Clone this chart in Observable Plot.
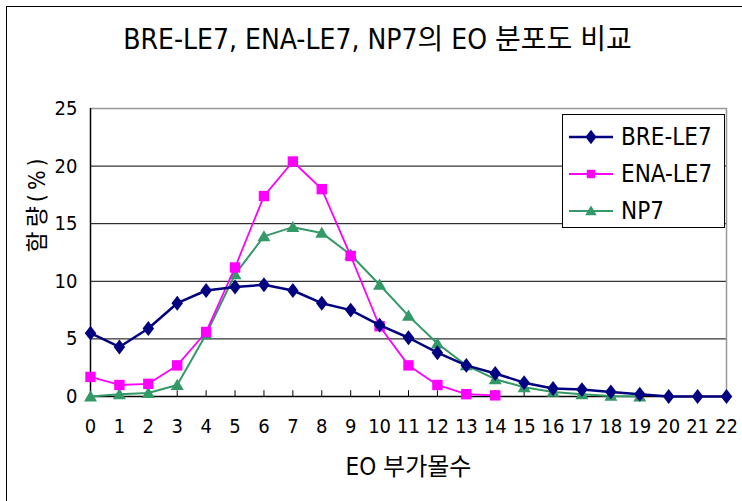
<!DOCTYPE html>
<html>
<head>
<meta charset="utf-8">
<script src="https://cdn.jsdelivr.net/npm/d3@7"></script>
<script src="https://cdn.jsdelivr.net/npm/@observablehq/plot@0.6"></script>
<style>
  html, body { margin: 0; padding: 0; background: #fff; }
  #wrap { position: relative; width: 742px; height: 501px; overflow: hidden; }
  #frame { position: absolute; left: 6px; top: 6px; width: 800px; height: 600px; border: 1.5px solid #000; box-sizing: border-box; }
  #chart { position: absolute; left: 0; top: 0; }
  #legend { position: absolute; left: 562px; top: 114px; width: 163px; height: 114px; border: 1px solid #000; background: #fff; box-sizing: border-box; }
  .row { position: absolute; left: 0; height: 30px; display: flex; align-items: center; white-space: nowrap; }
  .row span { font-family: "DejaVu Sans", "Noto Sans CJK KR", sans-serif; font-stretch: condensed; font-size: 24px; color: #000; margin-left: 4px; line-height: 30px; white-space: nowrap; }
  svg text { font-stretch: condensed; }
</style>
</head>
<body>
<div id="wrap">
  <div id="frame"></div>
  <div id="chart"></div>
  <div id="legend"></div>
</div>
<script>
const FONT = '"DejaVu Sans", "Noto Sans CJK KR", sans-serif';
const titleText = "BRE-LE7, ENA-LE7, NP7의 EO 분포도 비교";
const xTitle = "EO 부가몰수";
const yTitle = "함량(%)";
const seriesNames = ["BRE-LE7", "ENA-LE7", "NP7"];
const seriesColors = ["#000080", "#FF00FF", "#339966"];
const xTicks = [0,1,2,3,4,5,6,7,8,9,10,11,12,13,14,15,16,17,18,19,20,21,22];
const yTicks = [0, 5, 10, 15, 20, 25];
const breX = [0,1,2,3,4,5,6,7,8,9,10,11,12,13,14,15,16,17,18,19,20,21,22];
const breY = [5.5,4.3,5.9,8.1,9.2,9.5,9.7,9.2,8.1,7.5,6.2,5.1,3.8,2.7,2.0,1.2,0.7,0.6,0.4,0.2,0,0,0];
const enaX = [0,1,2,3,4,5,6,7,8,9,10,11,12,13,14];
const enaY = [1.7,1.0,1.1,2.7,5.6,11.2,17.4,20.4,18.0,12.2,6.1,2.7,1.0,0.2,0.1];
const npX = [0,1,2,3,4,5,6,7,8,9,10,11,12,13,14,15,16,17,18,19];
const npY = [0.0,0.2,0.3,1.0,5.4,10.6,13.9,14.7,14.2,12.3,9.7,7.0,4.6,2.7,1.5,0.8,0.4,0.2,0.05,0.0];

// custom marker shapes
const diamondSym = { draw(ctx, size) { const r = Math.sqrt(size / Math.PI); const h = r * 1.55, w = r * 1.2; ctx.moveTo(0, -h); ctx.lineTo(w, 0); ctx.lineTo(0, h); ctx.lineTo(-w, 0); ctx.closePath(); } };
const squareSym = { draw(ctx, size) { const r = Math.sqrt(size / Math.PI); ctx.rect(-r, -r, 2 * r, 2 * r); } };
const triSym = { draw(ctx, size) { const r = Math.sqrt(size / Math.PI); const w = r * 1.25; ctx.moveTo(0, -r * 1.2); ctx.lineTo(w, r * 0.95); ctx.lineTo(-w, r * 0.95); ctx.closePath(); } };

const bre = breX.map((x, i) => ({x, y: breY[i]}));
const ena = enaX.map((x, i) => ({x, y: enaY[i]}));
const np = npX.map((x, i) => ({x, y: npY[i]}));

const chart = Plot.plot({
  width: 742,
  height: 501,
  marginLeft: 90,
  marginRight: 16,
  marginTop: 108,
  marginBottom: 105,
  style: { fontFamily: FONT, background: "transparent", overflow: "visible" },
  x: { domain: [0, 22] },
  y: { domain: [0, 25] },
  marks: [
    Plot.ruleY([5, 10, 15, 20], { stroke: "#000", strokeWidth: 1 }),
    Plot.ruleY([25], { stroke: "#999", strokeWidth: 1.5 }),
    Plot.ruleX([22], { stroke: "#999", strokeWidth: 1.5 }),
    Plot.ruleX(xTicks.slice(1), { y1: 0, y2: 0.5, stroke: "#000", strokeWidth: 1 }),
    Plot.ruleY([0], { stroke: "#000", strokeWidth: 1.5 }),
    Plot.ruleX([0], { stroke: "#000", strokeWidth: 1.5 }),
    Plot.axisX({ ticks: xTicks, tickSize: 0, tickPadding: 22, fontSize: 20, label: null, tickFormat: d => String(d), fill: "#000" }),
    Plot.axisY({ ticks: yTicks, tickSize: 0, tickPadding: 13, fontSize: 20, label: null, fill: "#000" }),
    Plot.line(np, { x: "x", y: "y", stroke: seriesColors[2], strokeWidth: 2 }),
    Plot.dot(np, { x: "x", y: "y", symbol: triSym, r: 5.2, fill: seriesColors[2], stroke: "none" }),
    Plot.line(ena, { x: "x", y: "y", stroke: seriesColors[1], strokeWidth: 1.8 }),
    Plot.dot(ena, { x: "x", y: "y", symbol: squareSym, r: 5.2, fill: seriesColors[1], stroke: "none" }),
    Plot.line(bre, { x: "x", y: "y", stroke: seriesColors[0], strokeWidth: 2.5 }),
    Plot.dot(bre, { x: "x", y: "y", symbol: diamondSym, r: 4.8, fill: seriesColors[0], stroke: "none" }),
    Plot.text([titleText], { frameAnchor: "top", lineAnchor: "middle", dx: -31, dy: -68, fontSize: 28, fill: "#000" }),
    Plot.text([xTitle], { frameAnchor: "bottom", lineAnchor: "middle", dy: 71, fontSize: 24, fill: "#000" }),
    Plot.text([yTitle], { frameAnchor: "left", lineAnchor: "middle", rotate: -90, dx: -53, fontSize: 23, fill: "#000" })
  ]
});
document.getElementById("chart").appendChild(chart);
// widen the letter spacing of the vertical axis title as in the reference
d3.select(chart).selectAll("text").filter(function () { return this.textContent === yTitle; })
  .attr("letter-spacing", "4px");

// legend
const legend = document.getElementById("legend");
const shapes = [diamondSym, squareSym, triSym];
const rs = [4.6, 4.2, 4.6];
const widths = [2.5, 1.8, 2];
seriesNames.forEach((name, i) => {
  const row = document.createElement("div");
  row.className = "row";
  row.style.top = (7 + i * 37) + "px";
  const svg = d3.create("svg").attr("width", 48).attr("height", 30).style("margin-left", "6px");
  svg.append("line").attr("x1", 0).attr("x2", 44).attr("y1", 15).attr("y2", 15).attr("stroke", seriesColors[i]).attr("stroke-width", widths[i]);
  svg.append("path").attr("transform", "translate(22,15)").attr("d", d3.symbol(shapes[i], Math.PI * rs[i] * rs[i])()).attr("fill", seriesColors[i]);
  row.appendChild(svg.node());
  const span = document.createElement("span");
  span.textContent = name;
  row.appendChild(span);
  legend.appendChild(row);
});
</script>
</body>
</html>
